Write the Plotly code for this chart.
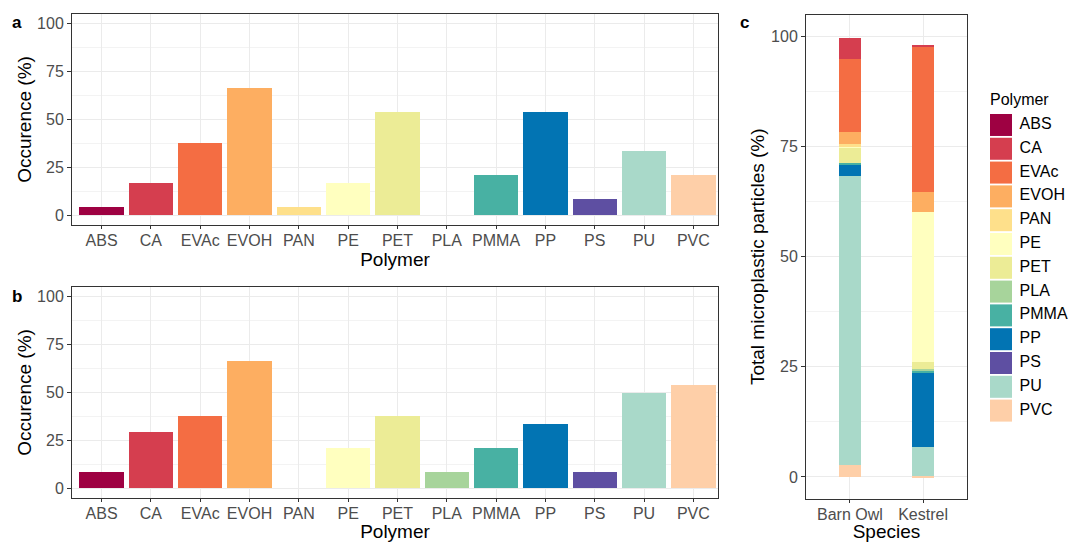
import plotly.graph_objects as go

polymers = ["ABS", "CA", "EVAc", "EVOH", "PAN", "PE", "PET", "PLA", "PMMA", "PP", "PS", "PU", "PVC"]
colors = ["#9E0142", "#D53E4F", "#F46D43", "#FDAE61", "#FEE08B", "#FFFFBF", "#ECEC96",
          "#A7D49B", "#48B1A3", "#0274B3", "#5E4FA2", "#A9D9C9", "#FECFA8"]

occ_a = [4.17, 16.67, 37.5, 66.67, 4.17, 16.67, 54.17, 0, 20.83, 54.17, 8.33, 33.33, 20.83]
occ_b = [8.33, 29.17, 37.5, 66.67, 0, 20.83, 37.5, 8.33, 20.83, 33.33, 8.33, 50.0, 54.17]

species = ["Barn Owl", "Kestrel"]
share = {
    "ABS":  [0.0, 0.0],
    "CA":   [4.9, 0.3],
    "EVAc": [16.5, 33.1],
    "EVOH": [2.8, 4.5],
    "PAN":  [0.4, 0.0],
    "PE":   [0.5, 34.1],
    "PET":  [3.3, 1.6],
    "PLA":  [0.0, 0.3],
    "PMMA": [0.3, 0.5],
    "PP":   [2.7, 16.9],
    "PS":   [0.0, 0.0],
    "PU":   [65.6, 6.6],
    "PVC":  [2.8, 0.3],
}

W, H = 1070, 542
def px(x): return x / W
def py(y): return 1 - y / H

FONT = "Liberation Sans, Arial, sans-serif"
TICKC = "#4D4D4D"
GRID = "#EBEBEB"
BORDER = "#333333"

fig = go.Figure()

fig.add_trace(go.Bar(x=polymers, y=occ_a, marker=dict(color=colors, line=dict(width=0)),
                     width=0.9, xaxis="x", yaxis="y", showlegend=False))
fig.add_trace(go.Bar(x=polymers, y=occ_b, marker=dict(color=colors, line=dict(width=0)),
                     width=0.9, xaxis="x2", yaxis="y2", showlegend=False))

for p, c in reversed(list(zip(polymers, colors))):
    fig.add_trace(go.Bar(x=species, y=share[p], name=p, marker=dict(color=c, line=dict(width=0)),
                         width=0.3, xaxis="x3", yaxis="y3", showlegend=False))

# custom legend with large keys
fig.add_trace(go.Scatter(x=[0.1375] * len(polymers), y=list(range(len(polymers))), mode="markers",
                         marker=dict(symbol="square", size=22, color=colors, line=dict(width=0)),
                         xaxis="x4", yaxis="y4", showlegend=False, hoverinfo="skip", cliponaxis=False))
fig.add_trace(go.Scatter(x=[0.37] * len(polymers), y=list(range(len(polymers))), mode="text",
                         text=polymers, textposition="middle right",
                         textfont=dict(family=FONT, size=16, color="black"),
                         xaxis="x4", yaxis="y4", showlegend=False, hoverinfo="skip", cliponaxis=False))

def xcat(domain, rng, title):
    return dict(domain=domain, range=rng, type="category", showline=True, mirror=True,
                linecolor=BORDER, linewidth=1, showgrid=True, gridcolor=GRID, gridwidth=1,
                ticks="outside", ticklen=3, tickcolor=BORDER, tickwidth=1, ticklabelstandoff=-2,
                tickfont=dict(family=FONT, size=16, color=TICKC), zeroline=False,
                title=dict(text=title, font=dict(family=FONT, size=19, color="black"), standoff=2))

def yval(domain, title, anchor, standoff):
    return dict(domain=domain, range=[-5, 105], anchor=anchor, showline=True, mirror=True,
                linecolor=BORDER, linewidth=1, showgrid=True, gridcolor=GRID, gridwidth=1,
                tickmode="linear", tick0=0, dtick=25,
                minor=dict(dtick=12.5, tick0=0, showgrid=True, gridcolor="#F3F3F3", gridwidth=0.6),
                ticks="outside", ticklen=4, tickcolor=BORDER, tickwidth=1,
                tickfont=dict(family=FONT, size=16, color=TICKC), zeroline=False,
                title=dict(text=title, font=dict(family=FONT, size=19, color="black"), standoff=standoff))

xa = xcat([px(72), px(718)], [-0.6, 12.5], "Polymer")
xa.update(anchor="y")
xb = xcat([px(72), px(718)], [-0.6, 12.5], "Polymer")
xb.update(anchor="y2")
xc = xcat([px(806), px(967)], [-0.6, 1.6], "Species")
xc.update(anchor="y3")

fig.update_layout(
    width=W, height=H, margin=dict(l=0, r=0, t=0, b=0),
    paper_bgcolor="white", plot_bgcolor="white", barmode="stack", bargap=0,
    font=dict(family=FONT),
    xaxis=xa, xaxis2=xb, xaxis3=xc,
    yaxis=yval([py(225), py(14)], "Occurence (%)", "x", 0),
    yaxis2=yval([py(498), py(287)], "Occurence (%)", "x2", 0),
    yaxis3=yval([py(499), py(14.5)], "Total microplastic particles (%)", "x3", 1),
    xaxis4=dict(domain=[px(990), 1], range=[0, 1], visible=False, anchor="y4"),
    yaxis4=dict(domain=[0, 1], range=[17.52, -5.25], visible=False, anchor="x4"),
    annotations=[
        dict(text="<b>a</b>", x=px(10), y=py(22), xref="paper", yref="paper", showarrow=False,
             xanchor="left", yanchor="middle", font=dict(family=FONT, size=17, color="black")),
        dict(text="<b>b</b>", x=px(10), y=py(296), xref="paper", yref="paper", showarrow=False,
             xanchor="left", yanchor="middle", font=dict(family=FONT, size=17, color="black")),
        dict(text="<b>c</b>", x=px(738), y=py(22), xref="paper", yref="paper", showarrow=False,
             xanchor="left", yanchor="middle", font=dict(family=FONT, size=17, color="black")),
        dict(text="Polymer", x=px(988), y=py(100), xref="paper", yref="paper", showarrow=False,
             xanchor="left", yanchor="middle", font=dict(family=FONT, size=16, color="black")),
    ],
)

fig.write_html("out.html", config={"displayModeBar": False},
               post_script="document.body.style.margin='0';")
